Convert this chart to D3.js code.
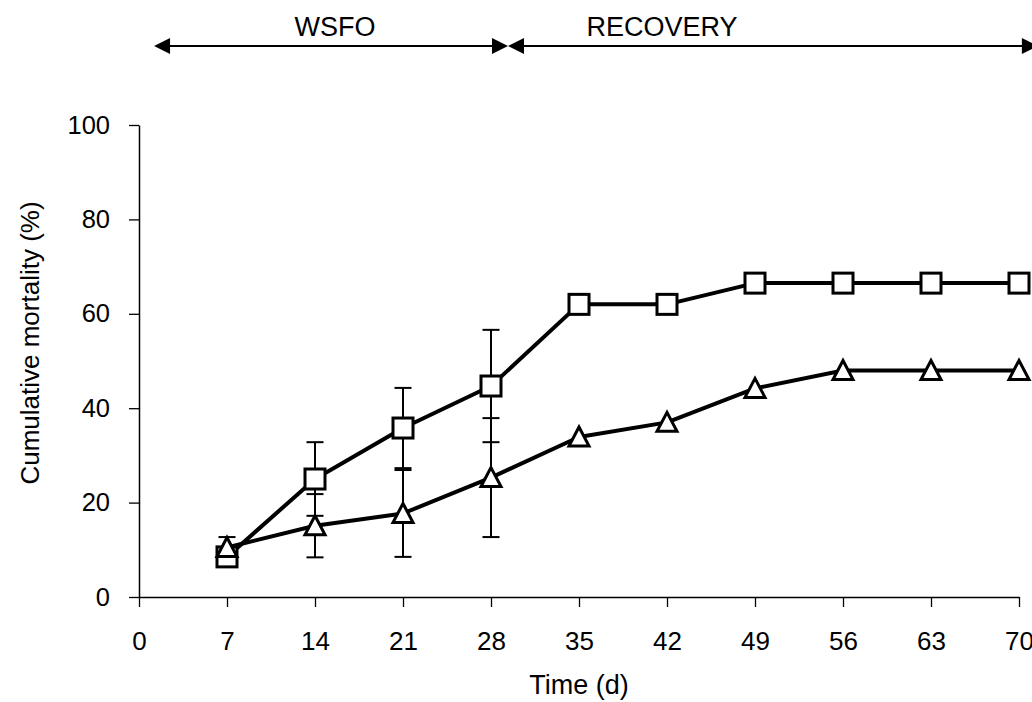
<!DOCTYPE html>
<html>
<head>
<meta charset="utf-8">
<script src="https://cdn.jsdelivr.net/npm/d3@7"></script>
<style>
  html, body { margin: 0; padding: 0; background: #fff; }
  svg { display: block; font-family: "Liberation Sans", Arial, Helvetica, sans-serif; }
</style>
</head>
<body>
<svg id="chart" width="1032" height="702"></svg>
<script>
// Sampling days (d)
const days = [7, 14, 21, 28, 35, 42, 49, 56, 63, 70];

// Cumulative mortality (%) — square series
const squareMortality = [8.5, 25, 35.8, 44.7, 62, 62, 66.5, 66.5, 66.5, 66.5];
const squareError     = [null, 7.8, 8.5, 11.9, null, null, null, null, null, null];

// Cumulative mortality (%) — triangle series
const triangleMortality = [10.5, 15.1, 17.7, 25.3, 33.9, 37, 44.2, 48, 48, 48];
const triangleError     = [2.2, 6.7, 9.2, 12.6, null, null, null, null, null, null];

// Axis ticks
const xTicks = [0, 7, 14, 21, 28, 35, 42, 49, 56, 63, 70];
const yTicks = [0, 20, 40, 60, 80, 100];

// Experimental phases shown above the plot (days)
const phaseNames  = ["WSFO", "RECOVERY"];
const phaseStart  = [1.2, 29.35];
const phaseEnd    = [29.35, 71.5];
const phaseLabelAt = [15.6, 41.6];

const svg = d3.select("#chart");

const x = d3.scaleLinear().domain([0, 70]).range([139, 1019]);
const y = d3.scaleLinear().domain([0, 100]).range([597, 125]);

// Axes
const xAxis = d3.axisBottom(x).tickValues(xTicks).tickSize(10).tickSizeOuter(0).tickPadding(25);
const yAxis = d3.axisLeft(y).tickValues(yTicks).tickSize(10).tickSizeOuter(0).tickPadding(19);

const gx = svg.append("g").attr("transform", `translate(0,${y(0)})`).call(xAxis);
gx.select(".domain").attr("stroke", "#000").attr("stroke-width", 1.5);
gx.selectAll(".tick line").attr("stroke", "#000").attr("stroke-width", 1.3);
gx.selectAll(".tick text").attr("font-size", 26).attr("fill", "#000")
  .attr("font-family", "'Liberation Sans', Arial, sans-serif");

const gy = svg.append("g").attr("transform", `translate(${x(0)},0)`).call(yAxis);
gy.select(".domain").attr("stroke", "#000").attr("stroke-width", 1.5);
gy.selectAll(".tick line").attr("stroke", "#000").attr("stroke-width", 1.3);
gy.selectAll(".tick text").attr("font-size", 25.5).attr("fill", "#000")
  .attr("font-family", "'Liberation Sans', Arial, sans-serif");

// Axis titles
svg.append("text")
  .attr("x", x(35)).attr("y", 694)
  .attr("text-anchor", "middle")
  .attr("font-size", 27)
  .text("Time (d)");

svg.append("text")
  .attr("transform", `translate(39,${(y(0) + y(100)) / 2 - 18}) rotate(-90)`)
  .attr("text-anchor", "middle")
  .attr("font-size", 26)
  .text("Cumulative mortality (%)");

// Phase arrows
const arrowY = 46;
const headLen = 16, headHalf = 8;
const phases = phaseNames.map((name, i) => ({
  name, start: phaseStart[i], end: phaseEnd[i], labelAt: phaseLabelAt[i]
}));

const gp = svg.append("g");
phases.forEach(p => {
  const x0 = x(p.start), x1 = x(p.end);
  gp.append("line")
    .attr("x1", x0 + headLen - 1).attr("x2", x1 - headLen + 1)
    .attr("y1", arrowY).attr("y2", arrowY)
    .attr("stroke", "#000").attr("stroke-width", 2);
  gp.append("path")
    .attr("d", `M${x0},${arrowY} L${x0 + headLen},${arrowY - headHalf} L${x0 + headLen},${arrowY + headHalf} Z`)
    .attr("fill", "#000");
  gp.append("path")
    .attr("d", `M${x1},${arrowY} L${x1 - headLen},${arrowY - headHalf} L${x1 - headLen},${arrowY + headHalf} Z`)
    .attr("fill", "#000");
  gp.append("text")
    .attr("x", x(p.labelAt)).attr("y", 36)
    .attr("text-anchor", "middle")
    .attr("font-size", 27)
    .text(p.name);
});

// Series
const series = [
  { kind: "square",   values: squareMortality,   errors: squareError },
  { kind: "triangle", values: triangleMortality, errors: triangleError }
];

const line = d3.line().x(d => x(d.day)).y(d => y(d.value));
const capHalf = 8.5;

// Error bars first so the markers sit on top
series.forEach(s => {
  const pts = days.map((day, i) => ({ day, value: s.values[i], err: s.errors[i] }))
    .filter(d => d.err != null);
  const g = svg.append("g").attr("stroke", "#000").attr("stroke-width", 2);
  pts.forEach(d => {
    const cx = x(d.day), top = y(d.value + d.err), bot = y(d.value - d.err);
    g.append("line").attr("x1", cx).attr("x2", cx).attr("y1", top).attr("y2", bot);
    g.append("line").attr("x1", cx - capHalf).attr("x2", cx + capHalf).attr("y1", top).attr("y2", top);
    g.append("line").attr("x1", cx - capHalf).attr("x2", cx + capHalf).attr("y1", bot).attr("y2", bot);
  });
});

series.forEach(s => {
  const pts = days.map((day, i) => ({ day, value: s.values[i] }));
  svg.append("path")
    .datum(pts)
    .attr("d", line)
    .attr("fill", "none")
    .attr("stroke", "#000")
    .attr("stroke-width", 4)
    .attr("stroke-linejoin", "round");

  const g = svg.append("g");
  if (s.kind === "square") {
    g.selectAll("rect").data(pts).join("rect")
      .attr("x", d => x(d.day) - 10).attr("y", d => y(d.value) - 10)
      .attr("width", 20).attr("height", 20)
      .attr("fill", "#fff").attr("stroke", "#000").attr("stroke-width", 3);
  } else {
    g.selectAll("path").data(pts).join("path")
      .attr("d", d => {
        const cx = x(d.day), cy = y(d.value);
        return `M${cx},${cy - 10} L${cx + 10},${cy + 9} L${cx - 10},${cy + 9} Z`;
      })
      .attr("fill", "#fff").attr("stroke", "#000").attr("stroke-width", 3)
      .attr("stroke-linejoin", "miter");
  }
});
</script>
</body>
</html>
